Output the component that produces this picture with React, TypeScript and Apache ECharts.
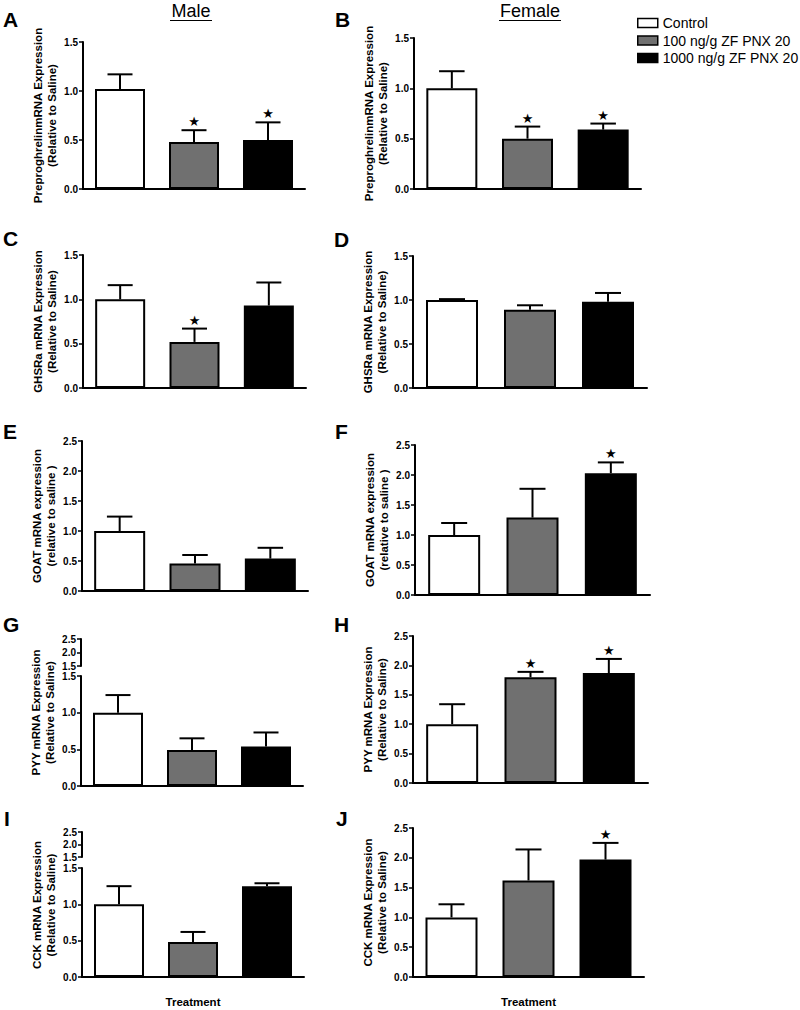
import React, { useEffect, useRef } from "react";
import * as echarts from "echarts";

const categories = ["Control", "100 ng/g ZF PNX 20", "1000 ng/g ZF PNX 20"];
const barColors = ["#ffffff", "#707070", "#000000"];

const meanA = [1.02, 0.48, 0.5];
const topA = [1.17, 0.6, 0.68];
const sigA = [0, 1, 1];

const meanB = [1.0, 0.5, 0.59];
const topB = [1.17, 0.62, 0.65];
const sigB = [0, 1, 1];

const meanC = [1.0, 0.52, 0.93];
const topC = [1.16, 0.67, 1.19];
const sigC = [0, 1, 0];

const meanD = [1.0, 0.89, 0.98];
const topD = [1.01, 0.94, 1.08];
const sigD = [0, 0, 0];

const meanE = [1.0, 0.46, 0.54];
const topE = [1.24, 0.6, 0.72];
const sigE = [0, 0, 0];

const meanF = [1.0, 1.29, 2.03];
const topF = [1.2, 1.77, 2.21];
const sigF = [0, 0, 1];

const meanG = [1.0, 0.49, 0.54];
const topG = [1.24, 0.65, 0.73];
const sigG = [0, 0, 0];

const meanH = [1.0, 1.8, 1.87];
const topH = [1.34, 1.89, 2.11];
const sigH = [0, 1, 1];

const meanI = [1.0, 0.48, 1.25];
const topI = [1.25, 0.62, 1.29];
const sigI = [0, 0, 0];

const meanJ = [1.0, 1.62, 1.97];
const topJ = [1.22, 2.14, 2.25];
const sigJ = [0, 0, 1];

const nameGhrelin = "PreproghrelinmRNA Expression\n(Relative to Saline)";
const nameGhsr = "GHSRa mRNA Expression\n(Relative to Saline)";
const nameGoat = "GOAT mRNA expression\n(relative to saline )";
const namePyy = "PYY mRNA Expression\n(Relative to Saline)";
const nameCck = "CCK mRNA Expression\n(Relative to Saline)";

const FONT = "'Liberation Sans', Arial, Helvetica, sans-serif";

type Panel = {
  letter: string;
  name: string;
  mean: number[];
  top: number[];
  sig: number[];
  max: number;
  left: number;
  gtop: number;
  width: number;
  height: number;
  barWidth: number;
  broken?: { top: number; height: number };
  treatment?: boolean;
  letterX: number;
  letterY: number;
};

const panels: Panel[] = [
  { letter: "A", name: nameGhrelin, mean: meanA, top: topA, sig: sigA, max: 1.5, left: 83, gtop: 42, width: 222, height: 147, barWidth: 50, letterX: 3, letterY: 9 },
  { letter: "B", name: nameGhrelin, mean: meanB, top: topB, sig: sigB, max: 1.5, left: 414, gtop: 38, width: 227, height: 151, barWidth: 51, letterX: 335, letterY: 9 },
  { letter: "C", name: nameGhsr, mean: meanC, top: topC, sig: sigC, max: 1.5, left: 83, gtop: 255, width: 223, height: 133, barWidth: 50, letterX: 3, letterY: 228 },
  { letter: "D", name: nameGhsr, mean: meanD, top: topD, sig: sigD, max: 1.5, left: 413, gtop: 256, width: 234, height: 132, barWidth: 52, letterX: 334, letterY: 229 },
  { letter: "E", name: nameGoat, mean: meanE, top: topE, sig: sigE, max: 2.5, left: 82, gtop: 441, width: 226, height: 150, barWidth: 51, letterX: 3, letterY: 421 },
  { letter: "F", name: nameGoat, mean: meanF, top: topF, sig: sigF, max: 2.5, left: 415, gtop: 445, width: 235, height: 150, barWidth: 52, letterX: 335, letterY: 421 },
  { letter: "G", name: namePyy, mean: meanG, top: topG, sig: sigG, max: 1.5, left: 81, gtop: 676, width: 222, height: 110, barWidth: 50, broken: { top: 639, height: 27 }, letterX: 3, letterY: 614 },
  { letter: "H", name: namePyy, mean: meanH, top: topH, sig: sigH, max: 2.5, left: 413, gtop: 636, width: 235, height: 147, barWidth: 52, letterX: 334, letterY: 614 },
  { letter: "I", name: nameCck, mean: meanI, top: topI, sig: sigI, max: 1.5, left: 82, gtop: 868, width: 222, height: 110, barWidth: 50, broken: { top: 832, height: 25 }, treatment: true, letterX: 4, letterY: 808 },
  { letter: "J", name: nameCck, mean: meanJ, top: topJ, sig: sigJ, max: 2.5, left: 413, gtop: 828, width: 231, height: 149, barWidth: 52, treatment: true, letterX: 336, letterY: 808 },
];

const axisLabelStyle = {
  formatter: (v: number) => v.toFixed(1),
  fontSize: 10,
  fontWeight: "bold" as const,
  color: "#000",
  margin: 5,
  fontFamily: FONT,
};

const nameStyle = {
  fontSize: 11.5,
  fontWeight: "bold" as const,
  color: "#000",
  lineHeight: 14,
  fontFamily: FONT,
};

function buildOption() {
  const grid: any[] = [];
  const xAxis: any[] = [];
  const yAxis: any[] = [];
  const series: any[] = [];
  const graphic: any[] = [];

  const makeYAxis = (gi: number, min: number, max: number, name: string) => ({
    type: "value",
    gridIndex: gi,
    min,
    max,
    interval: 0.5,
    axisLine: { show: true, lineStyle: { color: "#000", width: 2 } },
    axisTick: { show: true, length: 4, lineStyle: { color: "#000", width: 1.5 } },
    axisLabel: axisLabelStyle,
    splitLine: { show: false },
    name,
    nameLocation: "middle",
    nameGap: 24,
    nameTextStyle: nameStyle,
  });

  panels.forEach((p) => {
    const gi = grid.length;
    grid.push({ left: p.left, top: p.gtop, width: p.width, height: p.height });
    xAxis.push({
      type: "category",
      gridIndex: gi,
      data: categories,
      axisLine: { lineStyle: { color: "#000", width: 2 } },
      axisTick: {
        alignWithLabel: true,
        interval: (i: number) => i === 1,
        length: 5,
        lineStyle: { color: "#000", width: 1.5 },
      },
      axisLabel: { show: false },
      name: p.treatment ? "Treatment" : "",
      nameLocation: "middle",
      nameGap: 18,
      nameTextStyle: nameStyle,
    });
    yAxis.push(makeYAxis(gi, 0, p.max, p.broken ? "" : p.name));

    series.push({
      type: "bar",
      xAxisIndex: gi,
      yAxisIndex: gi,
      barWidth: p.barWidth,
      itemStyle: { borderColor: "#000", borderWidth: 2 },
      data: p.mean.map((v, i) => ({ value: v, itemStyle: { color: barColors[i] } })),
      z: 2,
    });
    series.push({
      type: "custom",
      xAxisIndex: gi,
      yAxisIndex: gi,
      encode: { x: 0, y: [1, 2] },
      z: 3,
      data: p.mean.map((v, i) => [i, v, p.top[i], p.sig[i]]),
      renderItem: (params: any, api: any) => {
        const idx = api.value(0);
        const p0 = api.coord([idx, api.value(1)]);
        const p1 = api.coord([idx, api.value(2)]);
        const half = p.barWidth / 4;
        const children: any[] = [
          { type: "line", shape: { x1: p0[0], y1: p0[1], x2: p1[0], y2: p1[1] }, style: { stroke: "#000", lineWidth: 2 } },
          { type: "line", shape: { x1: p1[0] - half, y1: p1[1], x2: p1[0] + half, y2: p1[1] }, style: { stroke: "#000", lineWidth: 2 } },
        ];
        if (api.value(3)) {
          children.push({
            type: "text",
            x: p1[0],
            y: p1[1] - 2,
            style: { text: "★", fontSize: 13, fontFamily: "'DejaVu Sans', sans-serif", fill: "#000", textAlign: "center", textVerticalAlign: "bottom" },
          });
        }
        return { type: "group", children };
      },
    });

    if (p.broken) {
      const ui = grid.length;
      grid.push({ left: p.left, top: p.broken.top, width: p.width, height: p.broken.height });
      xAxis.push({ type: "category", gridIndex: ui, data: categories, show: false });
      yAxis.push(makeYAxis(ui, 1.5, 2.5, ""));
      const si = grid.length;
      grid.push({ left: p.left, top: p.broken.top, width: p.width, height: p.gtop + p.height - p.broken.top });
      xAxis.push({ type: "category", gridIndex: si, data: categories, show: false });
      yAxis.push({
        type: "value",
        gridIndex: si,
        min: 0,
        max: 1,
        axisLine: { show: false },
        axisTick: { show: false },
        axisLabel: { show: false },
        splitLine: { show: false },
        name: p.name,
        nameLocation: "middle",
        nameGap: 24,
        nameTextStyle: nameStyle,
      });
    }

    graphic.push({
      type: "text",
      x: p.letterX,
      y: p.letterY,
      style: { text: p.letter, fontSize: 21, fontWeight: "bold", fontFamily: FONT, fill: "#000", textVerticalAlign: "top" },
    });
  });

  const titles = [
    { text: "Male", cx: 191, half: 21 },
    { text: "Female", cx: 530, half: 31 },
  ];
  titles.forEach((t) => {
    graphic.push({
      type: "text",
      x: t.cx,
      y: 2,
      style: { text: t.text, fontSize: 18, fontFamily: FONT, fill: "#000", textAlign: "center", textVerticalAlign: "top" },
    });
    graphic.push({
      type: "line",
      shape: { x1: t.cx - t.half, y1: 20.5, x2: t.cx + t.half, y2: 20.5 },
      style: { stroke: "#000", lineWidth: 1.2 },
    });
  });

  categories.forEach((c, i) => {
    series.push({
      type: "scatter",
      name: c,
      xAxisIndex: 0,
      yAxisIndex: 0,
      data: [],
      itemStyle: { color: barColors[i], borderColor: "#000", borderWidth: 1.5, opacity: 1 },
    });
  });

  return {
    animation: false,
    backgroundColor: "#ffffff",
    grid,
    xAxis,
    yAxis,
    series,
    graphic,
    legend: {
      orient: "vertical",
      left: 637,
      top: 16,
      padding: 0,
      icon: "rect",
      itemWidth: 20,
      itemHeight: 9,
      itemGap: 3.5,
      selectedMode: false,
      data: categories.map((c, i) => ({
        name: c,
        itemStyle: { color: barColors[i], borderColor: "#000", borderWidth: 1.5, opacity: 1 },
      })),
      textStyle: { fontSize: 14, color: "#000", fontFamily: FONT, padding: [0, 0, 0, 0] },
    },
  };
}

export default function App() {
  const ref = useRef<HTMLDivElement>(null);
  useEffect(() => {
    document.body.style.margin = "0";
    if (!ref.current) return;
    const chart = echarts.init(ref.current, undefined, { renderer: "svg" });
    chart.setOption(buildOption() as any);
    return () => chart.dispose();
  }, []);
  return <div ref={ref} style={{ width: 800, height: 1010 }} />;
}
